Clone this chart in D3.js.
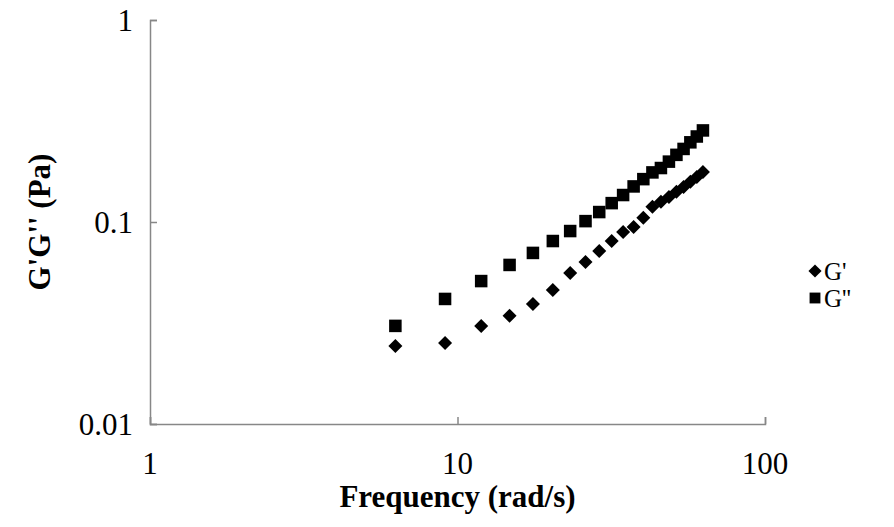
<!DOCTYPE html>
<html>
<head>
<meta charset="utf-8">
<script src="https://cdn.jsdelivr.net/npm/d3@7/dist/d3.min.js"></script>
<style>
  html, body { margin: 0; padding: 0; background: #fff; }
  svg { display: block; }
  text { font-family: "Liberation Serif", "Times New Roman", serif; fill: #000; }
</style>
</head>
<body>
<svg id="chart" width="894" height="527"></svg>
<script>
// Oscillatory frequency sweep (rad/s), 1 Hz to 10 Hz
const frequency = [6.28, 9.11, 11.94, 14.77, 17.59, 20.42, 23.25, 26.08, 28.90, 31.73,
                   34.56, 37.39, 40.21, 43.04, 45.87, 48.70, 51.52, 54.35, 57.18, 60.01, 62.83];
// Storage modulus G' (Pa)
const storageModulus = [0.0243, 0.0252, 0.0306, 0.0343, 0.0393, 0.0461, 0.0559, 0.0634, 0.0718, 0.0805,
                        0.0892, 0.0945, 0.105, 0.119, 0.126, 0.133, 0.141, 0.149, 0.158, 0.167, 0.177];
// Loss modulus G'' (Pa)
const lossModulus = [0.0306, 0.0416, 0.0510, 0.0613, 0.0703, 0.0805, 0.0902, 0.101, 0.112, 0.124,
                     0.136, 0.150, 0.163, 0.176, 0.185, 0.199, 0.215, 0.230, 0.248, 0.265, 0.284];
const xTicks = [1, 10, 100];
const yTicks = [0.01, 0.1, 1];
const seriesNames = ["G'", "G''"];

const svg = d3.select("#chart");
const plotLeft = 150, plotRight = 765, plotTop = 20, plotBottom = 424;

const x = d3.scaleLog().domain([1, 100]).range([plotLeft, plotRight]);
const y = d3.scaleLog().domain([0.01, 1]).range([plotBottom, plotTop]);

const axisColor = "#878787";

// Axes: ticks point into the plot area
const xAxis = svg.append("g")
  .attr("transform", `translate(0,${plotBottom})`)
  .call(d3.axisTop(x).tickValues(xTicks).tickSize(7).tickFormat(""));
const yAxis = svg.append("g")
  .attr("transform", `translate(${plotLeft},0)`)
  .call(d3.axisRight(y).tickValues(yTicks).tickSize(7).tickFormat(""));
[xAxis, yAxis].forEach(g => {
  g.select(".domain").attr("stroke", axisColor).attr("stroke-width", 1.5);
  g.selectAll(".tick line").attr("stroke", axisColor).attr("stroke-width", 1.5);
});

// Tick labels
svg.append("g").selectAll("text").data(xTicks).join("text")
  .attr("x", d => x(d)).attr("y", 474)
  .attr("text-anchor", "middle")
  .style("font-size", "31px")
  .text(d => String(d));
svg.append("g").selectAll("text").data(yTicks).join("text")
  .attr("x", 133).attr("y", d => y(d))
  .attr("dy", "0.35em")
  .attr("text-anchor", "end")
  .style("font-size", "31px")
  .text(d => String(d));

// Axis titles
svg.append("text")
  .attr("x", (plotLeft + plotRight) / 2).attr("y", 507)
  .attr("text-anchor", "middle")
  .style("font-size", "31px").style("font-weight", "bold")
  .text("Frequency (rad/s)");
svg.append("text")
  .attr("transform", `translate(50,${(plotTop + plotBottom) / 2}) rotate(-90)`)
  .attr("text-anchor", "middle")
  .style("font-size", "31px").style("font-weight", "bold")
  .text("G'G'' (Pa)");

// Markers
const diamond = d3.symbol().type(d3.symbolDiamond2).size(125);
const square = d3.symbol().type(d3.symbolSquare2).size(200);

svg.append("g").selectAll("path").data(frequency.map((f, i) => [f, lossModulus[i]])).join("path")
  .attr("d", square)
  .attr("transform", d => `translate(${x(d[0])},${y(d[1])})`)
  .attr("fill", "#000");

svg.append("g").selectAll("path").data(frequency.map((f, i) => [f, storageModulus[i]])).join("path")
  .attr("d", diamond)
  .attr("transform", d => `translate(${x(d[0])},${y(d[1])})`)
  .attr("fill", "#000");

// Legend
const legend = svg.append("g");
const legendRows = [
  { name: seriesNames[0], sym: d3.symbol().type(d3.symbolDiamond2).size(110), cy: 271 },
  { name: seriesNames[1], sym: d3.symbol().type(d3.symbolSquare2).size(150), cy: 298 }
];
legend.selectAll("path").data(legendRows).join("path")
  .attr("d", d => d.sym())
  .attr("transform", d => `translate(815,${d.cy})`)
  .attr("fill", "#000");
legend.selectAll("text").data(legendRows).join("text")
  .attr("x", 824).attr("y", d => d.cy)
  .attr("dy", "0.35em")
  .style("font-size", "25px")
  .text(d => d.name);
</script>
</body>
</html>
